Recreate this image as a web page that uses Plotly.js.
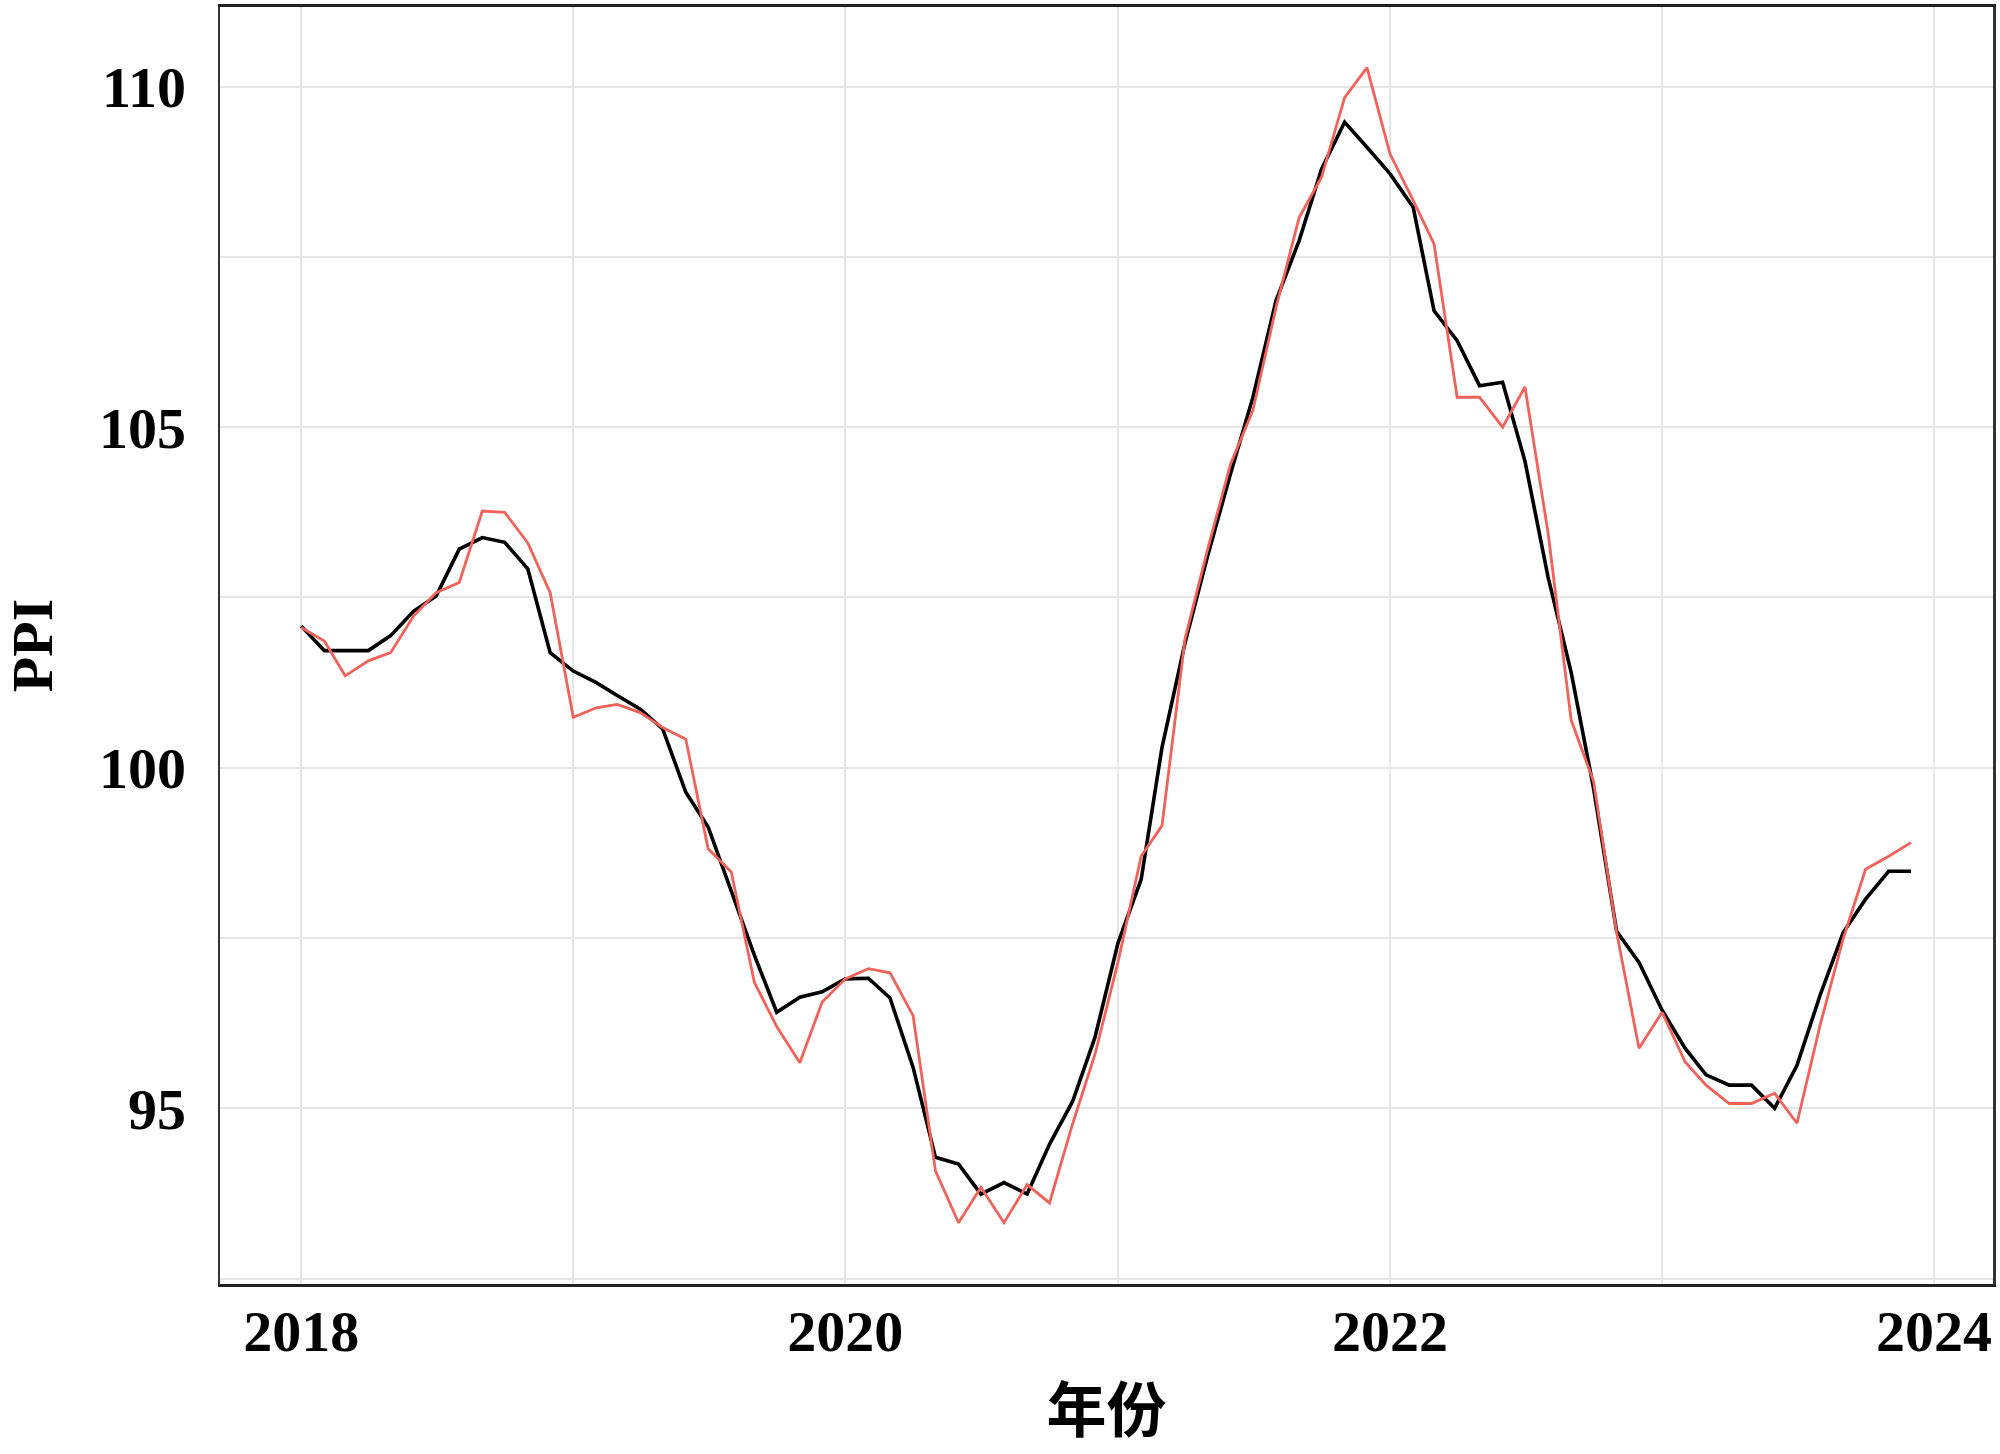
<!DOCTYPE html>
<html>
<head>
<meta charset="utf-8">
<script src="https://cdn.plot.ly/plotly-3.0.1.min.js"></script>
<style>
  html, body { margin: 0; padding: 0; background: #fff; }
  #ppiChart { width: 2000px; height: 1454px; }
</style>
</head>
<body>
<div id="ppiChart"></div>
<script>
// monthly PPI, Jan 2018 .. Dec 2023
const startYear = 2018;
const monthCount = 72;

// fitted series (black)
const fittedPPI = [
  102.08, 101.72, 101.72, 101.72, 101.94, 102.30, 102.52, 103.21, 103.38, 103.31, 102.92, 101.69,
  101.42, 101.25, 101.06, 100.86, 100.57, 99.64, 99.13, 98.19, 97.25, 96.41, 96.63, 96.71,
  96.90, 96.91, 96.62, 95.60, 94.28, 94.18, 93.74, 93.91, 93.74, 94.47, 95.10, 96.04,
  97.43, 98.36, 100.30, 101.84, 103.10, 104.32, 105.44, 106.86, 107.74, 108.79, 109.48, 109.11,
  108.72, 108.23, 106.71, 106.27, 105.61, 105.66, 104.50, 102.80, 101.40, 99.70, 97.60, 97.14,
  96.44, 95.88, 95.49, 95.34, 95.34, 95.00, 95.63, 96.66, 97.58, 98.07, 98.48, 98.48
];

// actual series (red)
const actualPPI = [
  102.06, 101.86, 101.35, 101.57, 101.69, 102.23, 102.57, 102.72, 103.77, 103.75, 103.30, 102.57,
  100.74, 100.88, 100.93, 100.81, 100.59, 100.42, 98.81, 98.47, 96.85, 96.20, 95.67, 96.56,
  96.90, 97.05, 96.99, 96.36, 94.08, 93.32, 93.84, 93.32, 93.88, 93.61, 94.77, 95.79,
  97.15, 98.70, 99.15, 101.90, 103.20, 104.46, 105.25, 106.76, 108.08, 108.67, 109.84, 110.28,
  109.01, 108.33, 107.69, 105.44, 105.44, 105.00, 105.59, 103.45, 100.70, 99.80, 97.58, 95.88,
  96.41, 95.68, 95.34, 95.07, 95.07, 95.22, 94.78, 96.22, 97.49, 98.51, 98.70, 98.90
];

const yTickVals = [95, 100, 105, 110];
const xTickVals = ['2018-01-01', '2020-01-01', '2022-01-01', '2024-01-01'];
const xTickText = ['2018', '2020', '2022', '2024'];

const months = [];
for (let i = 0; i < monthCount; i++) {
  const y = startYear + Math.floor(i / 12);
  const m = (i % 12) + 1;
  months.push(y + '-' + String(m).padStart(2, '0') + '-01');
}

const serif = '"Liberation Serif", "Times New Roman", serif';

const fittedTrace = {
  x: months,
  y: fittedPPI,
  mode: 'lines',
  type: 'scatter',
  name: 'fitted',
  line: { color: '#000000', width: 3.6 }
};

const actualTrace = {
  x: months,
  y: actualPPI,
  mode: 'lines',
  type: 'scatter',
  name: 'actual',
  line: { color: '#f0625a', width: 2.8 }
};

const gridColor = '#e6e6e6';

const layout = {
  width: 2000,
  height: 1454,
  margin: { l: 220, r: 7, t: 7, b: 170 },
  paper_bgcolor: '#ffffff',
  plot_bgcolor: '#ffffff',
  showlegend: false,
  font: { family: serif, color: '#000000' },
  xaxis: {
    type: 'date',
    range: ['2017-09-14', '2024-03-20'],
    tickvals: xTickVals,
    ticktext: xTickText,
    ticks: '',
    tickfont: { family: serif, size: 58, weight: 'bold', color: '#000' },
    ticklabelstandoff: -6,
    showgrid: true,
    gridcolor: gridColor,
    gridwidth: 2,
    minor: { dtick: 'M12', tick0: '2018-01-01', showgrid: true, gridcolor: gridColor, gridwidth: 2, ticks: '' },
    showline: true,
    linecolor: '#222222',
    linewidth: 3,
    mirror: true,
    zeroline: false,
    title: {
      text: '年份',
      font: { family: '"Noto Sans CJK SC", sans-serif', size: 60, weight: 'bold', color: '#000' },
      standoff: 28
    }
  },
  yaxis: {
    range: [92.42, 111.17],
    tickvals: yTickVals,
    ticks: '',
    tickfont: { family: serif, size: 58, weight: 'bold', color: '#000' },
    ticklabelstandoff: 20,
    showgrid: true,
    gridcolor: gridColor,
    gridwidth: 2,
    minor: { dtick: 2.5, tick0: 95, showgrid: true, gridcolor: gridColor, gridwidth: 2, ticks: '' },
    showline: true,
    linecolor: '#333333',
    linewidth: 2.5,
    mirror: true,
    zeroline: false,
    title: {
      text: 'PPI',
      font: { family: serif, size: 58, weight: 'bold', color: '#000' },
      standoff: 30
    }
  }
};

Plotly.newPlot('ppiChart', [fittedTrace, actualTrace], layout, { displayModeBar: false, staticPlot: true });
</script>
</body>
</html>
